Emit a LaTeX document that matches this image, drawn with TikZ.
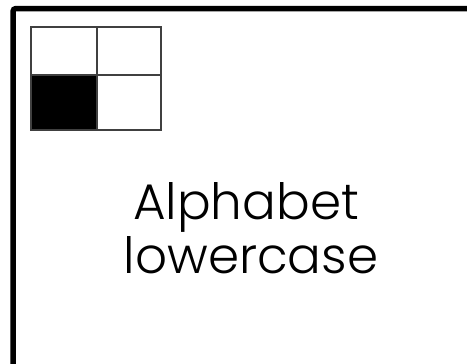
\documentclass[tikz,border=0pt]{standalone}
\usepackage{fontspec}
\setmainfont{Poppins Light}
\begin{document}
\begin{tikzpicture}[x=1pt,y=-1pt,
  gridline/.style={draw=black!75,line width=1.3pt},
  label/.style={anchor=base,inner sep=0pt,font=\fontsize{50}{60}\selectfont}]
\useasboundingbox (0,0) rectangle (467,364);
\fill[white] (0,0) rectangle (467,364);
\draw[line width=5.5pt,rounded corners=3pt,line cap=butt] (13,372) -- (13,8.5) -- (480,8.5);
\fill[black] (31,75) rectangle (97,130);
\draw[gridline] (31,27) rectangle (161,130);
\draw[gridline] (97,27) -- (97,130);
\draw[gridline] (31,75) -- (161,75);
\node[label] (l1) at (246,219) {Alphabet};
\node[label] (l2) at (251,273) {lowercase};
\end{tikzpicture}
\end{document}
